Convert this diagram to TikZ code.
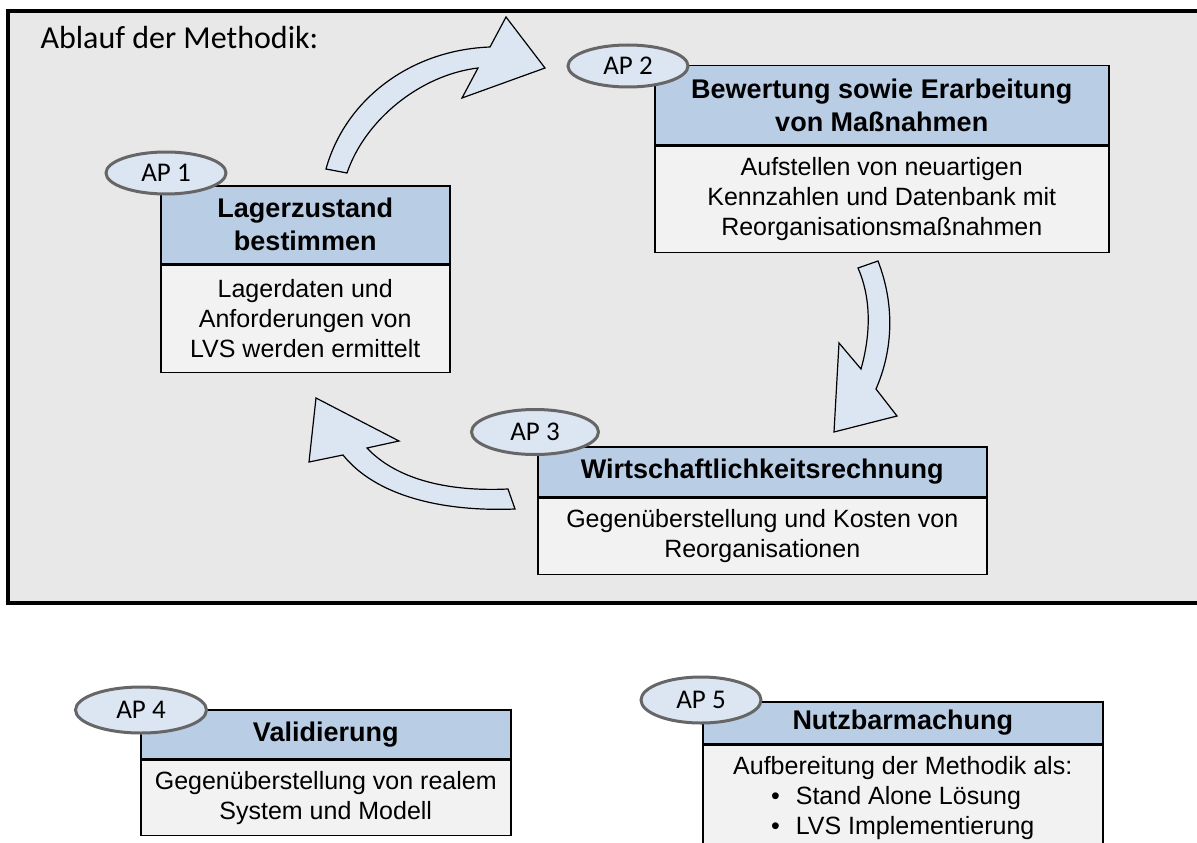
\documentclass[tikz,border=0pt]{standalone}
\usepackage{fontspec}
\setmainfont{Liberation Sans}
\newfontfamily\carlito{Carlito}
\usetikzlibrary{positioning,shapes.geometric}
\definecolor{FrameGray}{HTML}{E8E8E8}
\definecolor{HeadBlue}{HTML}{B9CDE5}
\definecolor{BodyGray}{HTML}{F2F2F2}
\definecolor{PaleBlue}{HTML}{DCE6F2}
\definecolor{RimGray}{HTML}{666666}

\begin{document}
\begin{tikzpicture}[x=1pt,y=-1pt,
  head/.style={draw=black,line width=1.5pt,fill=HeadBlue,inner sep=0pt,align=center,font=\fontsize{27}{33}\selectfont\bfseries,anchor=north west},
  body/.style={draw=black,line width=1.5pt,fill=BodyGray,inner sep=0pt,align=center,font=\fontsize{25}{30}\selectfont,anchor=north},
  tag/.style={ellipse,draw=RimGray,line width=3pt,fill=PaleBlue,inner sep=0pt,minimum width=120pt,minimum height=42pt,font=\carlito\fontsize{27}{30}\selectfont},
  bigarrow/.style={draw=black,line width=1.2pt,fill=PaleBlue,line join=miter}]
  \clip (0,0) rectangle (1197,843);
  \fill[white] (0,0) rectangle (1197,843);
  \draw[line width=4.5pt,fill=FrameGray] (8,11) rectangle (1225,603);
  \node[anchor=base west,font=\carlito\fontsize{32}{38}\selectfont] (title) at (37,49) {Ablauf der Methodik:};

  \draw[bigarrow] (326,169) .. controls (345,100) and (410,50) .. (490,47) -- (506,17) -- (545,68) -- (462,98) -- (478,68) .. controls (420,75) and (365,120) .. (347,173) -- cycle;
  \draw[bigarrow] (858,268) -- (878,261) .. controls (895,305) and (893,350) .. (876,389) -- (897,416) -- (834,432) -- (839,343) -- (861,369) .. controls (872,330) and (870,295) .. (858,268) -- cycle;
  \draw[bigarrow] (508,489) -- (515,509) .. controls (440,512) and (375,495) .. (343,455) -- (309,462) -- (316,398) -- (399,441) -- (367,448) .. controls (395,478) and (445,492) .. (508,489) -- cycle;

  \node[head,minimum width=289pt,minimum height=78pt] (h1) at (160,185) {Lagerzustand\\bestimmen};
  \node[body,minimum width=289pt,minimum height=107pt] (b1) at (h1.south) {Lagerdaten und\\Anforderungen von\\LVS werden ermittelt};
  \node[head,minimum width=454pt,minimum height=79pt] (h2) at (654,65) {Bewertung sowie Erarbeitung\\von Maßnahmen};
  \node[body,minimum width=454pt,minimum height=106pt] (b2) at (h2.south) {Aufstellen von neuartigen\\Kennzahlen und Datenbank mit\\Reorganisationsmaßnahmen};
  \node[head,minimum width=449pt,minimum height=50pt] (h3) at (537,446) {Wirtschaftlichkeitsrechnung};
  \node[body,minimum width=449pt,minimum height=76pt] (b3) at (h3.south) {Gegenüberstellung und Kosten von\\Reorganisationen};
  \node[head,minimum width=370pt,minimum height=49pt] (h4) at (140,709) {Validierung};
  \node[body,minimum width=370pt,minimum height=75pt] (b4) at (h4.south) {Gegenüberstellung von realem\\System und Modell};
  \node[head,minimum width=400pt,minimum height=42pt] (h5) at (702,701) {Nutzbarmachung};
  \node[body,minimum width=400pt,minimum height=110pt] (b5) at (h5.south) {Aufbereitung der Methodik als:\\\begin{tabular}[t]{@{}l@{\hspace{16pt}}l@{}}\textbullet&Stand Alone Lösung\\\textbullet&LVS Implementierung\end{tabular}};

  \node[tag] (t1) at (166,173) {AP 1};
  \node[tag] (t2) at (628,66) {AP 2};
  \node[tag,minimum width=127pt,minimum height=45pt] (t3) at (535,432) {AP 3};
  \node[tag,minimum width=131pt,minimum height=46pt] (t4) at (141,710) {AP 4};
  \node[tag,minimum width=120pt,minimum height=46pt] (t5) at (701,700) {AP 5};
\end{tikzpicture}
\end{document}
